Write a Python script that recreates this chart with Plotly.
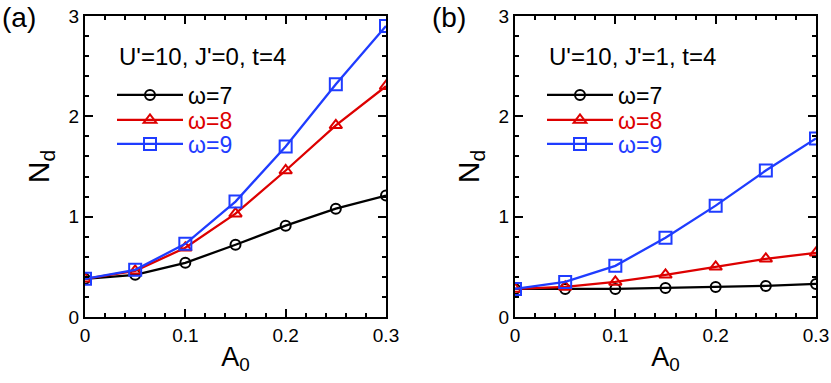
import plotly.graph_objects as go

a0 = [0, 0.05, 0.1, 0.15, 0.2, 0.25, 0.3]

# panel (a): U'=10, J'=0, t=4
nd_a_w7 = [0.38, 0.42, 0.54, 0.72, 0.91, 1.08, 1.21]
nd_a_w8 = [0.38, 0.46, 0.69, 1.03, 1.46, 1.91, 2.30]
nd_a_w9 = [0.38, 0.47, 0.73, 1.15, 1.70, 2.32, 2.90]

# panel (b): U'=10, J'=1, t=4
nd_b_w7 = [0.28, 0.28, 0.28, 0.29, 0.30, 0.31, 0.33]
nd_b_w8 = [0.28, 0.30, 0.35, 0.42, 0.50, 0.58, 0.64]
nd_b_w9 = [0.28, 0.35, 0.51, 0.79, 1.11, 1.46, 1.78]

names = ["ω=7", "ω=8", "ω=9"]
colors = ["#000000", "#dd0000", "#1f3cff"]
symbols = ["circle-open", "triangle-up-open", "square-open"]
msizes = [10, 11, 12]
FONT = "Liberation Sans, Arial, sans-serif"
W, H = 831, 383

fig = go.Figure()

# one legend per entry so the row spacing can match the original
panels = [
    ("x", "y", 0, [nd_a_w7, nd_a_w8, nd_a_w9], 112),
    ("x2", "y2", 3, [nd_b_w7, nd_b_w8, nd_b_w9], 542),
]
row_y = [95, 120, 144]
for xa, ya, k0, series, lx in panels:
    for i, (nm, col, sym, ms, vals) in enumerate(zip(names, colors, symbols, msizes, series)):
        lg = "legend" if k0 + i == 0 else "legend%d" % (k0 + i + 1)
        fig.add_trace(go.Scatter(
            x=a0, y=vals, xaxis=xa, yaxis=ya, legend=lg,
            mode="lines+markers",
            name="<span style='color:%s'>%s</span>" % (col, nm),
            line=dict(color=col, width=2.3),
            marker=dict(symbol=sym, size=ms, color=col, line=dict(color=col, width=2)),
        ))
        fig.layout[lg] = dict(
            font=dict(family=FONT, size=23, color="black"),
            bgcolor="rgba(0,0,0,0)", itemwidth=66,
            xanchor="left", yanchor="middle",
            x=lx / W, y=1 - row_y[i] / H,
        )

axis_common = dict(
    showline=True, linecolor="black", linewidth=2, mirror="allticks",
    ticks="inside", ticklen=8, tickwidth=1.5, tickcolor="black",
    showgrid=False, zeroline=False,
    tickfont=dict(family=FONT, size=19, color="black"),
)

xdoms = [[85 / W, 386 / W], [515 / W, 816 / W]]
ydom = [1 - 317 / H, 1 - 16 / H]
for i, suf in enumerate(["", "2"]):
    fig.layout["xaxis" + suf] = dict(
        axis_common, domain=xdoms[i], range=[0, 0.3],
        tickvals=[0, 0.1, 0.2, 0.3], ticktext=["0", "0.1", "0.2", "0.3"],
        minor=dict(dtick=0.02, ticklen=4, ticks="inside", tickcolor="black", tickwidth=1.5),
        anchor="y" + suf,
        title=dict(text="A<sub>0</sub>", font=dict(family=FONT, size=27, color="black"), standoff=2),
    )
    fig.layout["yaxis" + suf] = dict(
        axis_common, domain=ydom, range=[0, 3], dtick=1,
        minor=dict(dtick=0.2, ticklen=4, ticks="inside", tickcolor="black", tickwidth=1.5),
        anchor="x" + suf,
        title=dict(text="N<sub>d</sub>", font=dict(family=FONT, size=30, color="black"), standoff=10),
    )

for x0, txt in [(117, "U'=10, J'=0, t=4"), (547, "U'=10, J'=1, t=4")]:
    fig.add_annotation(text=txt, xref="paper", yref="paper", x=x0 / W, y=1 - 56 / H,
                       xanchor="left", yanchor="middle", showarrow=False,
                       font=dict(family=FONT, size=24, color="black"))
for x0, txt in [(0, "(a)"), (430, "(b)")]:
    fig.add_annotation(text=txt, xref="paper", yref="paper", x=x0 / W, y=1.0,
                       xanchor="left", yanchor="top", showarrow=False,
                       font=dict(family=FONT, size=28, color="black"))

fig.update_layout(
    width=W, height=H,
    margin=dict(l=0, r=0, t=0, b=0, autoexpand=False),
    paper_bgcolor="white", plot_bgcolor="white",
    showlegend=True,
)

fig.write_html("out.html", config={"displayModeBar": False},
               post_script="document.body.style.margin='0px';")
